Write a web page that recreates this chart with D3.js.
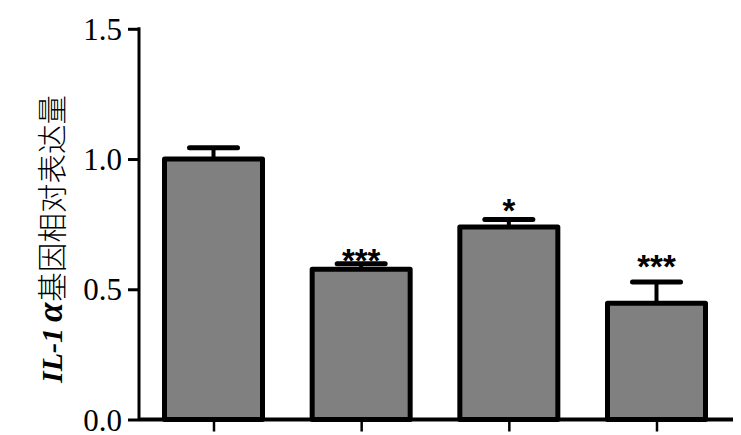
<!DOCTYPE html>
<html><head><meta charset="utf-8">
<script src="https://cdn.jsdelivr.net/npm/d3@7"></script>
<style>
html,body{margin:0;padding:0;background:#fff;overflow:hidden;}
svg{display:block;}
</style></head>
<body>
<svg id="chart" width="741" height="435"></svg>
<script>
const categories = ["组1", "组2", "组3", "组4"];
const means = [1.0, 0.577, 0.739, 0.446];
const sems = [0.043, 0.021, 0.029, 0.082];
const stars = ["", "***", "*", "***"];
const starLevels = [null, 0.607, 0.799, 0.584];
const yTicks = [0.0, 0.5, 1.0, 1.5];
const yTickLabels = ["0.0", "0.5", "1.0", "1.5"];

const svg = d3.select("#chart");
const y = d3.scaleLinear().domain([0, 1.5]).range([419.5, 28.8]);
const x = d3.scalePoint().domain(categories).range([213.5, 656.5]);
const barW = 98;

// bars
svg.append("g").selectAll("rect").data(categories).join("rect")
  .attr("x", d => x(d) - barW / 2)
  .attr("y", (d, i) => y(means[i]))
  .attr("width", barW)
  .attr("height", (d, i) => y(0) - y(means[i]))
  .attr("fill", "#808080")
  .attr("stroke", "#000")
  .attr("stroke-width", 5)
  .attr("stroke-linejoin", "round");

// error bars (upper)
const eg = svg.append("g").attr("stroke", "#000").attr("stroke-linecap", "round");
categories.forEach((c, i) => {
  eg.append("line")
    .attr("x1", x(c)).attr("x2", x(c))
    .attr("y1", y(means[i])).attr("y2", y(means[i] + sems[i]))
    .attr("stroke-width", 4).attr("stroke-linecap", "butt");
  eg.append("line")
    .attr("x1", x(c) - 24).attr("x2", x(c) + 24)
    .attr("y1", y(means[i] + sems[i])).attr("y2", y(means[i] + sems[i]))
    .attr("stroke-width", 5);
});

// significance stars
svg.append("g").selectAll("text").data(categories).join("text")
  .attr("x", d => x(d))
  .attr("y", (d, i) => starLevels[i] == null ? 0 : y(starLevels[i]) + 11)
  .attr("text-anchor", "middle")
  .attr("font-family", "Liberation Sans, Arial, sans-serif")
  .attr("font-weight", "bold")
  .attr("font-size", 33)
  .text((d, i) => stars[i]);

// y axis
const yAxis = d3.axisLeft(y).tickValues(yTicks)
  .tickFormat((d, i) => yTickLabels[i]).tickSize(11).tickPadding(6);
const ga = svg.append("g").attr("transform", "translate(139,0)").call(yAxis);
ga.select(".domain").attr("d", `M0,${y(1.5) - 1.5}V${y(0)}`).attr("stroke-width", 3);
ga.selectAll(".tick line").attr("stroke-width", 3);
ga.selectAll(".tick text")
  .attr("font-family", "Liberation Serif, Times New Roman, serif")
  .attr("font-size", 31).attr("fill", "#000").attr("dy", "0.34em");

// x axis
const xAxis = d3.axisBottom(x).tickSize(12).tickFormat("");
const gx = svg.append("g").attr("transform", `translate(0,${y(0)})`).call(xAxis);
gx.select(".domain").attr("d", "M139,0H733").attr("stroke-width", 4);
gx.selectAll(".tick line").attr("stroke-width", 2.5);

// y axis title
const title = svg.append("text")
  .attr("transform", "translate(62,383) rotate(-90)")
  .attr("text-anchor", "start")
  .attr("fill", "#000");
title.append("tspan")
  .attr("font-family", "Liberation Serif, Times New Roman, serif")
  .attr("font-weight", "bold").attr("font-style", "italic")
  .attr("font-size", 30)
  .text("IL-1");
title.append("tspan")
  .attr("font-family", "Liberation Serif, Times New Roman, serif")
  .attr("font-weight", "bold").attr("font-style", "italic")
  .attr("font-size", 35).attr("dx", 6)
  .text("α");
title.append("tspan")
  .attr("font-family", "Noto Sans CJK SC, sans-serif")
  .attr("font-weight", 300)
  .attr("font-size", 29.5)
  .attr("dx", 1)
  .attr("dy", 1)
  .text("基因相对表达量");
</script>
</body></html>
